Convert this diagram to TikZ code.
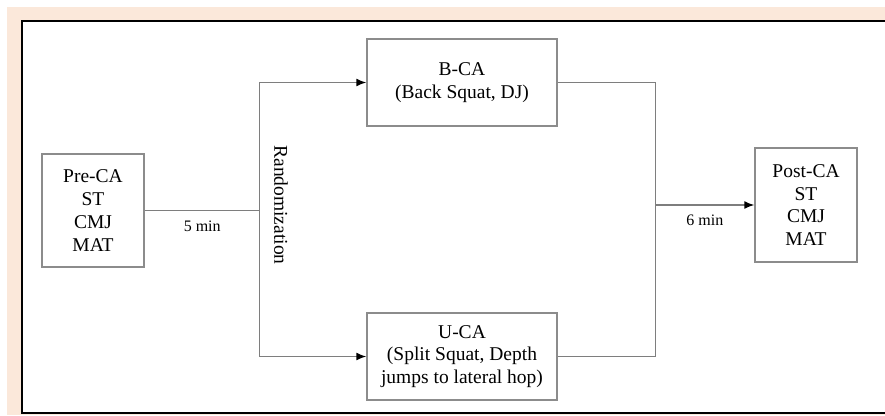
\documentclass[tikz,border=0pt]{standalone}
\usepackage{fontspec}
\setmainfont{Liberation Serif}
\usetikzlibrary{arrows.meta,calc}
\definecolor{paper}{HTML}{FBE8DA}
\definecolor{edge}{HTML}{8C8C8C}
\begin{document}
\begin{tikzpicture}[x=1pt,y=-1pt,
  box/.style={draw=edge,line width=1.4pt,align=center,inner sep=0pt,
    font=\fontsize{19.5}{22.7}\selectfont},
  conn/.style={draw=edge!90!black,line width=1.5pt},
  arr/.style={conn,-{Latex[length=10pt,width=8pt,black]}},
  lbl/.style={font=\fontsize{16}{19}\selectfont}]
  \useasboundingbox (0,0) rectangle (885,415);
  \fill[white] (0,0) rectangle (885,415);
  \fill[paper] (7,7) rectangle (885,415);
  \fill[white] (22,21) rectangle (885,413);
  \draw[line width=2pt] (890,21)--(22,21)--(22,413)--(890,413);
  \node[box,minimum width=102,minimum height=113] (pre) at (93,210.5)
     {Pre-CA\\ST\\CMJ\\MAT};
  \node[box,minimum width=190,minimum height=87] (bca) at (462,82.5)
     {B-CA\\(Back Squat, DJ)};
  \node[box,minimum width=190,minimum height=87] (uca) at (462,356.5)
     {U-CA\\(Split Squat, Depth\\jumps to lateral hop)};
  \node[box,minimum width=102,minimum height=114] (post) at (806,205)
     {Post-CA\\ST\\CMJ\\MAT};
  \coordinate (split) at ($(pre.east)+(115,0)$);
  \coordinate (join) at ($(post.west)+(-99,0)$);
  \draw[conn] (pre.east) -- node[lbl,below=6pt]{5 min} (split);
  \draw[arr] (split) |- (bca.west);
  \draw[arr] (split) |- (uca.west);
  \draw[conn] (bca.east) -| (join);
  \draw[conn] (uca.east) -| (join);
  \draw[arr] (join) -- node[lbl,below=6pt]{6 min} (post.west);
  \node[rotate=-90,font=\fontsize{19.5}{22.7}\selectfont] (rnd) at (281,205) {Randomization};
\end{tikzpicture}
\end{document}
